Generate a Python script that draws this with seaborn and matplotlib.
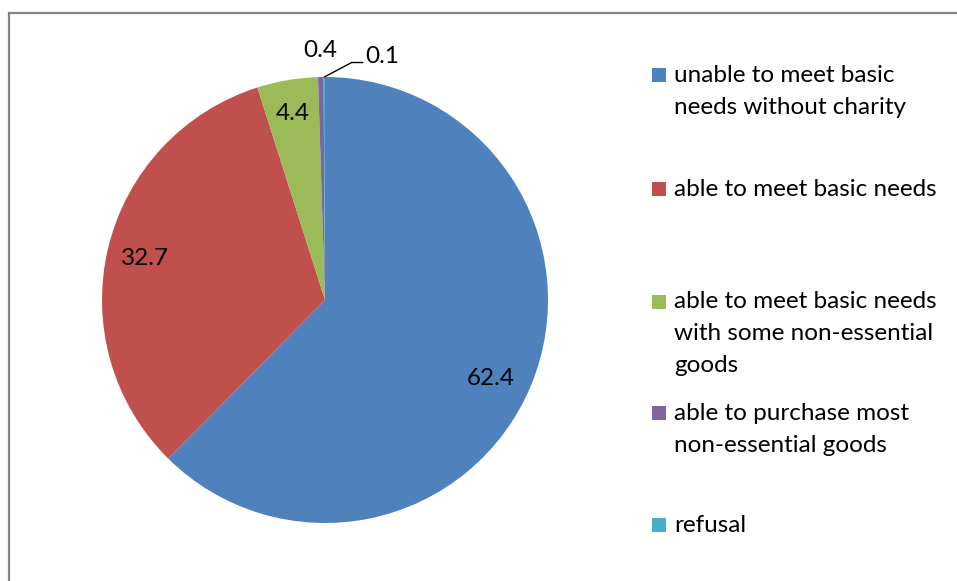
import numpy as np
import matplotlib
matplotlib.use("Agg")
import matplotlib.pyplot as plt
import seaborn as sns

categories = [
    "unable to meet basic\nneeds without charity",
    "able to meet basic needs",
    "able to meet basic needs\nwith some non-essential\ngoods",
    "able to purchase most\nnon-essential goods",
    "refusal",
]
values = [62.4, 32.7, 4.4, 0.4, 0.1]
value_labels = ["62.4", "32.7", "4.4", "0.4", "0.1"]
colors = ["#4F81BD", "#C0504D", "#9BBB59", "#8064A2", "#4BACC6"]

sns.set_theme(style="white")
plt.rcParams["font.family"] = ["Lato", "DejaVu Sans"]

W, H = 957, 581
fig = plt.figure(figsize=(W / 100, H / 100), dpi=100)

# Outer chart border (only top/left visible in the reference)
border = plt.Rectangle((9 / W, -1.0), 1.5, 2.0 - 13 / H, transform=fig.transFigure,
                       fill=False, edgecolor="#868686", linewidth=1.6, clip_on=False)
fig.patches.append(border)

cx, cy, r = 325, 300, 223
ax = fig.add_axes([(cx - r) / W, (H - cy - r) / H, 2 * r / W, 2 * r / H])
wedges, _ = ax.pie(values, colors=colors, startangle=90, counterclock=False,
                   radius=1.0, wedgeprops=dict(linewidth=0))
ax.set_xlim(-1, 1)
ax.set_ylim(-1, 1)
ax.set_aspect("equal")
ax.axis("off")

fs = 17.5
# data labels: radius and small angular nudge per label along mid-angle
radii = [0.822, 0.83, 0.85, 1.12]
nudges = [-2.9, 0.7, 0.0, 0.0]
for w, lab, rr, dn in zip(wedges[:4], value_labels[:4], radii, nudges):
    ang = np.deg2rad((w.theta1 + w.theta2) / 2 + dn)
    ax.text(rr * np.cos(ang), rr * np.sin(ang), lab, ha="center", va="center",
            fontsize=fs, color="black", clip_on=False)
# last label with leader line
w = wedges[4]
ang = np.deg2rad((w.theta1 + w.theta2) / 2)
x0, y0 = np.cos(ang), np.sin(ang)
ax.plot([x0, 0.12, 0.17], [y0, 1.065, 1.065], color="black", lw=1.0, clip_on=False)
ax.text(0.18, 1.09, value_labels[4], ha="left", va="center", fontsize=fs,
        color="black", clip_on=False)

# Legend drawn as entries
entry_tops = [75, 189, 302, 413, 525]
line_h = 32
for lab, col, yt in zip(categories, colors, entry_tops):
    fig.patches.append(plt.Rectangle((652 / W, (H - yt - 7) / H), 14 / W, 14 / H,
                                     transform=fig.transFigure, facecolor=col,
                                     edgecolor="none"))
    for i, line in enumerate(lab.split("\n")):
        fig.text(674 / W, (H - yt - i * line_h) / H, line, ha="left", va="center",
                 fontsize=fs, color="black")

fig.savefig("out.png", dpi=100, facecolor="white")
